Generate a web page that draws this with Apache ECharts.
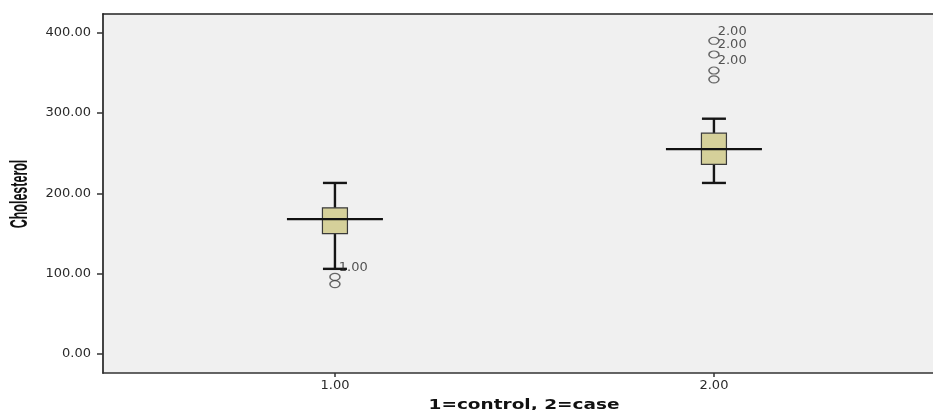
<!DOCTYPE html>
<html>
<head>
<meta charset="utf-8">
<script src="https://cdn.jsdelivr.net/npm/echarts@6/dist/echarts.min.js"></script>
<style>
html,body{margin:0;padding:0;background:#fff;}
#chart{width:933px;height:410px;}
</style>
</head>
<body>
<div id="chart"></div>
<script>
// Groups (x positions) and tick labels
var groups = [1, 2];
var xTickLabels = ['1.00', '2.00'];
var yTicks = [0, 100, 200, 300, 400];
var xTitle = '1=control, 2=case';
var yTitle = 'Cholesterol';

// Box statistics per group
var whiskerLow = [106, 213];
var q1 = [150, 236];
var median = [168, 255];
var q3 = [182, 275];
var whiskerHigh = [213, 293];

// Outliers per group, and their labels ('' = no label)
var outliers1 = [96, 87];
var outlierLabels1 = ['1.00', ''];
var outliers2 = [390, 373, 353, 342];
var outlierLabels2 = ['2.00', '2.00', '2.00', ''];

var boxData = groups.map(function (g, i) {
  return [g, whiskerLow[i], q1[i], median[i], q3[i], whiskerHigh[i]];
});
var outlierData = [];
outliers1.forEach(function (v, i) { outlierData.push({ value: [groups[0], v], lbl: outlierLabels1[i] }); });
outliers2.forEach(function (v, i) { outlierData.push({ value: [groups[1], v], lbl: outlierLabels2[i] }); });

var chart = echarts.init(document.getElementById('chart'), null, { renderer: 'canvas' });

function renderBox(params, api) {
  var x = api.value(0);
  var pLow = api.coord([x, api.value(1)]);
  var pQ1 = api.coord([x, api.value(2)]);
  var pMed = api.coord([x, api.value(3)]);
  var pQ3 = api.coord([x, api.value(4)]);
  var pHigh = api.coord([x, api.value(5)]);
  var cx = pMed[0];
  var halfBox = 12.5, halfCap = 12, halfMed = 48;
  var lineStyle = { stroke: '#151515', lineWidth: 2.4 };
  return {
    type: 'group',
    children: [
      { type: 'line', shape: { x1: cx, y1: pHigh[1], x2: cx, y2: pQ3[1] }, style: lineStyle },
      { type: 'line', shape: { x1: cx, y1: pQ1[1], x2: cx, y2: pLow[1] }, style: lineStyle },
      { type: 'line', shape: { x1: cx - halfCap, y1: pHigh[1], x2: cx + halfCap, y2: pHigh[1] }, style: lineStyle },
      { type: 'line', shape: { x1: cx - halfCap, y1: pLow[1], x2: cx + halfCap, y2: pLow[1] }, style: lineStyle },
      { type: 'rect', shape: { x: cx - halfBox, y: pQ3[1], width: halfBox * 2, height: pQ1[1] - pQ3[1] },
        style: { fill: '#d5d09a', stroke: '#3a3a3a', lineWidth: 1.2 } },
      { type: 'line', shape: { x1: cx - halfMed, y1: pMed[1], x2: cx + halfMed, y2: pMed[1] },
        style: { stroke: '#111', lineWidth: 2.2 } }
    ]
  };
}

var option = {
  animation: false,
  backgroundColor: '#ffffff',
  grid: {
    left: 103, top: 14, right: 0, bottom: 37,
    containLabel: false,
    outerBoundsMode: 'none',
    show: true, backgroundColor: '#f0f0f0', borderWidth: 0
  },
  graphic: [{
    type: 'text',
    x: 20, y: 194,
    rotation: Math.PI / 2,
    scaleX: 0.52,
    style: {
      text: yTitle,
      font: 'bold 24px "Liberation Sans", Arial, sans-serif',
      fill: '#111',
      align: 'center',
      verticalAlign: 'middle'
    }
  }, {
    type: 'text',
    x: 524, y: 405,
    scaleX: 1.32,
    style: {
      text: xTitle,
      font: 'bold 14px "DejaVu Sans", sans-serif',
      fill: '#111',
      align: 'center',
      verticalAlign: 'middle'
    }
  }],
  xAxis: [{
    type: 'value',
    min: 0.388, max: 2.578,
    position: 'bottom',
    axisLine: { show: true, onZero: false, lineStyle: { color: '#333', width: 1.5 } },
    axisTick: { show: true, length: 4, customValues: groups, lineStyle: { color: '#333', width: 1.5 } },
    axisLabel: {
      customValues: groups,
      margin: 6,
      fontFamily: 'DejaVu Sans', fontSize: 13, color: '#2a2a2a',
      formatter: function (v) { return xTickLabels[groups.indexOf(v)] || v.toFixed(2); }
    },
    splitLine: { show: false }
  }, {
    type: 'value',
    min: 0.388, max: 2.578,
    position: 'top',
    axisLine: { show: true, onZero: false, lineStyle: { color: '#222', width: 1.5 } },
    axisTick: { show: false },
    axisLabel: { show: false },
    splitLine: { show: false }
  }],
  yAxis: {
    type: 'value',
    min: -23.7, max: 423.4,
    axisLine: { show: true, onZero: false, lineStyle: { color: '#444', width: 2 } },
    axisTick: { show: true, length: 6, customValues: yTicks, lineStyle: { color: '#333', width: 1.5 } },
    axisLabel: {
      customValues: yTicks,
      margin: 12,
      fontFamily: 'DejaVu Sans', fontSize: 13, color: '#2a2a2a',
      formatter: function (v) { return v.toFixed(2); }
    },
    splitLine: { show: false }
  },
  series: [{
    type: 'custom',
    xAxisIndex: 0,
    renderItem: renderBox,
    encode: { x: 0, y: [1, 2, 3, 4, 5] },
    data: boxData,
    z: 2
  }, {
    type: 'scatter',
    xAxisIndex: 0,
    symbol: 'circle',
    symbolSize: [10, 7],
    itemStyle: { color: 'rgba(0,0,0,0)', borderColor: '#444', borderWidth: 1.3 },
    label: {
      show: true,
      position: 'right',
      distance: 0,
      offset: [-2, -9.5],
      fontFamily: 'DejaVu Sans', fontSize: 13, color: '#2a2a2a',
      formatter: function (p) { return p.data.lbl; }
    },
    data: outlierData,
    z: 3
  }]
};
chart.setOption(option);
</script>
</body>
</html>
